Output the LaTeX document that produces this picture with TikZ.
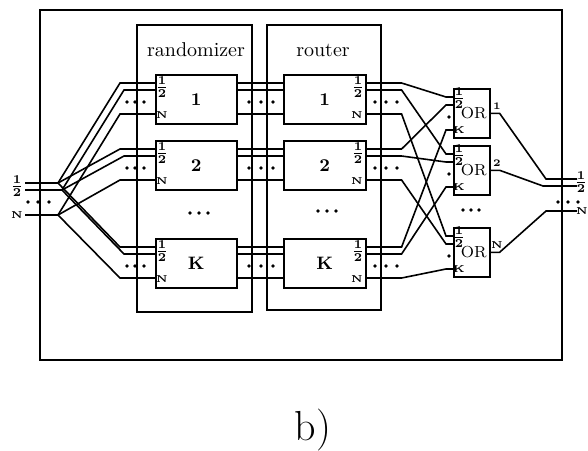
\documentclass[tikz,border=0pt]{standalone}
\usepackage{tikz}
\usetikzlibrary{positioning}

\begin{document}
\begin{tikzpicture}[x=0.5pt,y=-0.5pt,line width=0.8pt,
 modbox/.style={draw,anchor=north west,inner sep=0pt,minimum height=24.5pt,font=\small\bfseries},
 orbox/.style={draw,anchor=north west,inner sep=0pt,minimum width=18pt,minimum height=24.5pt,font=\footnotesize},
 grplbl/.style={font=\normalsize},
 portlbl/.style={font=\tiny\bfseries,inner sep=0.5pt},
 fraclbl/.style={font=\footnotesize\boldmath,inner sep=0pt}]
\useasboundingbox (0,0) rectangle (588,450);
\draw (40,10) rectangle (562,360);
\draw (137,25) rectangle (252,312);
\draw (267,25) rectangle (381,310);
\node[grplbl] (rndlbl) at (196,50) {randomizer};
\node[grplbl] (rtrlbl) at (323,50) {router};

\node[fraclbl] (inlbl) at (17,186) {$\frac12$};
\node[portlbl] (inlblN) at (17,215) {N};
\coordinate (in1) at (25,183);
\coordinate (in2) at (25,190);
\coordinate (in3) at (25,215);
\coordinate (fan1) at (58,183);
\coordinate (fan2) at (62,190);
\coordinate (fan3) at (58,215);
\foreach \k in {1,2,3} \draw (in\k) -- (fan\k);
\foreach \x in {28,38,49} \fill (\x,202) circle (0.9pt);

\foreach \r/\t/\lab in {1/74/1,2/140/2,3/238/K}{
 \node[modbox,minimum width=40.5pt] (rnd\r) at (155,\t) {\lab};
 \node[modbox,minimum width=41pt] (rtr\r) at (283,\t) {\lab};
 \node[fraclbl] (rnd\r-h) at (162,\t+13) {$\frac12$};
 \node[portlbl] (rnd\r-n) at (162,\t+41) {N};
 \node[fraclbl] (rtr\r-h) at (358,\t+13) {$\frac12$};
 \node[portlbl] (rtr\r-n) at (357,\t+41) {N};
 \foreach \s in {4.5pt,8pt,20pt}
  \draw ([yshift=-\s]rnd\r.north east) -- ([yshift=-\s]rtr\r.north west);
 \draw (fan1) -- ([xshift=-17.5pt,yshift=-4.5pt]rnd\r.north west) -- ([yshift=-4.5pt]rnd\r.north west);
 \draw (fan2) -- ([xshift=-15.5pt,yshift=-8pt]rnd\r.north west) -- ([yshift=-8pt]rnd\r.north west);
 \draw (fan3) -- ([xshift=-17.5pt,yshift=-20pt]rnd\r.north west) -- ([yshift=-20pt]rnd\r.north west);
 \foreach \x in {127,135,144,249,261,273,375,386,397} \fill (\x,\t+28) circle (0.9pt);
}
\foreach \x in {190,199,208} \fill (\x,213) circle (0.9pt);
\foreach \x in {318,327,336} \fill (\x,211) circle (0.9pt);

\coordinate (fo1) at (546,179);
\coordinate (fo2) at (543,186);
\coordinate (fo3) at (546,211);
\coordinate (out1) at (577,179);
\coordinate (out2) at (577,186);
\coordinate (out3) at (577,211);
\node[fraclbl] (outlbl) at (581,182.5) {$\frac12$};
\node[portlbl] (outlblN) at (582,211) {N};
\foreach \x in {558,568,578} \fill (\x,202) circle (0.9pt);

\foreach \i/\t/\lab in {1/88/1,2/145/2,3/227/N}{
 \node[orbox] (or\i) at (453,\t) {\hspace*{2pt}OR};
 \node[fraclbl] (or\i-h) at (459,\t+10) {$\frac12$};
 \node[portlbl] (or\i-k) at (459,\t+42) {K};
 \node[portlbl] (or\i-o) at (497,\t+18) {\lab};
 \fill (449,\t+29) circle (0.9pt);
 \draw (or\i.east) -- ++(4.5pt,0) -- (fo\i) -- (out\i);
}
\foreach \x in {463,471,479} \fill (\x,210) circle (0.9pt);

\foreach \j/\jo in {1/4.5pt,2/8.5pt,3/21pt}
 \foreach \i/\io in {1/4.5pt,2/8pt,3/20pt}
  \draw ([yshift=-\io]rtr\j.north east) -- ++(17.5pt,0) -- ([xshift=-3.5pt,yshift=-\jo]or\i.north west) -- ([yshift=-\jo]or\i.north west);

\node[anchor=base,font=\fontsize{21}{25}\selectfont] (cap) at (313,440) {b)};
\end{tikzpicture}
\end{document}
